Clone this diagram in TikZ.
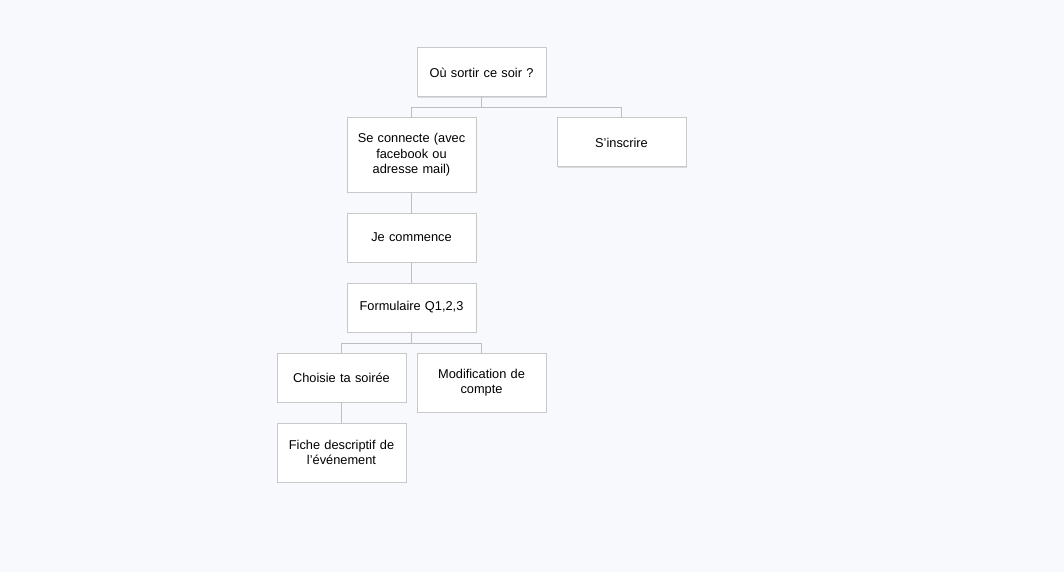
\documentclass[tikz,border=0pt]{standalone}
\usepackage{fontspec}
\setmainfont{Liberation Sans}
\usetikzlibrary{shadows}
\definecolor{fond}{HTML}{F8F9FC}
\definecolor{bord}{HTML}{C9C9CC}
\definecolor{trait}{HTML}{BDBDC4}

\tikzset{
  boite/.style={draw=bord, fill=white, line width=1pt, text width=120pt,
    inner xsep=4.5pt, inner ysep=0pt, align=center, minimum height=#1,
    font=\fontsize{12.8}{15.5}\selectfont,
    drop shadow={shadow xshift=0.6pt, shadow yshift=-1.2pt, opacity=0.12, fill=black}},
  boite/.default=49pt,
  lien/.style={draw=trait, line width=1pt}
}

\begin{document}
\begin{tikzpicture}[x=1pt, y=-1pt]
      \fill[fond] (0,0) rectangle (1064,572);
      \useasboundingbox (0,0) rectangle (1064,572);
      % arbre
      \node[boite] (sortir) at (481.5, 72.5) {Où sortir ce soir ?};
      \node[boite=74pt] (connecte) at (411.5, 155) {Se connecte (avec\\ facebook ou\\ adresse mail)};
      \node[boite] (inscrire) at (621.5, 142.5) {S'inscrire};
      \node[boite] (commence) at (411.5, 237.5) {Je commence};
      \node[boite] (formulaire) at (411.5, 307.5) {Formulaire Q1,2,3};
      \node[boite] (soiree) at (341.5, 377.5) {Choisie ta soirée};
      \node[boite=59pt] (modif) at (481.5, 382.5) {Modification de\\ compte};
      \node[boite=59pt] (fiche) at (341.5, 452.5) {Fiche descriptif de\\ l'événement};
      % liens
      \foreach \fils in {connecte, inscrire}
        \draw[lien] (sortir.south) -- ++(0, 10.5) -| (\fils.north);
      \foreach \fils in {soiree, modif}
        \draw[lien] (formulaire.south) -- ++(0, 10.5) -| (\fils.north);
      \draw[lien] (connecte) -- (commence);
      \draw[lien] (commence) -- (formulaire);
      \draw[lien] (soiree) -- (fiche);
    \end{tikzpicture}
\end{document}
